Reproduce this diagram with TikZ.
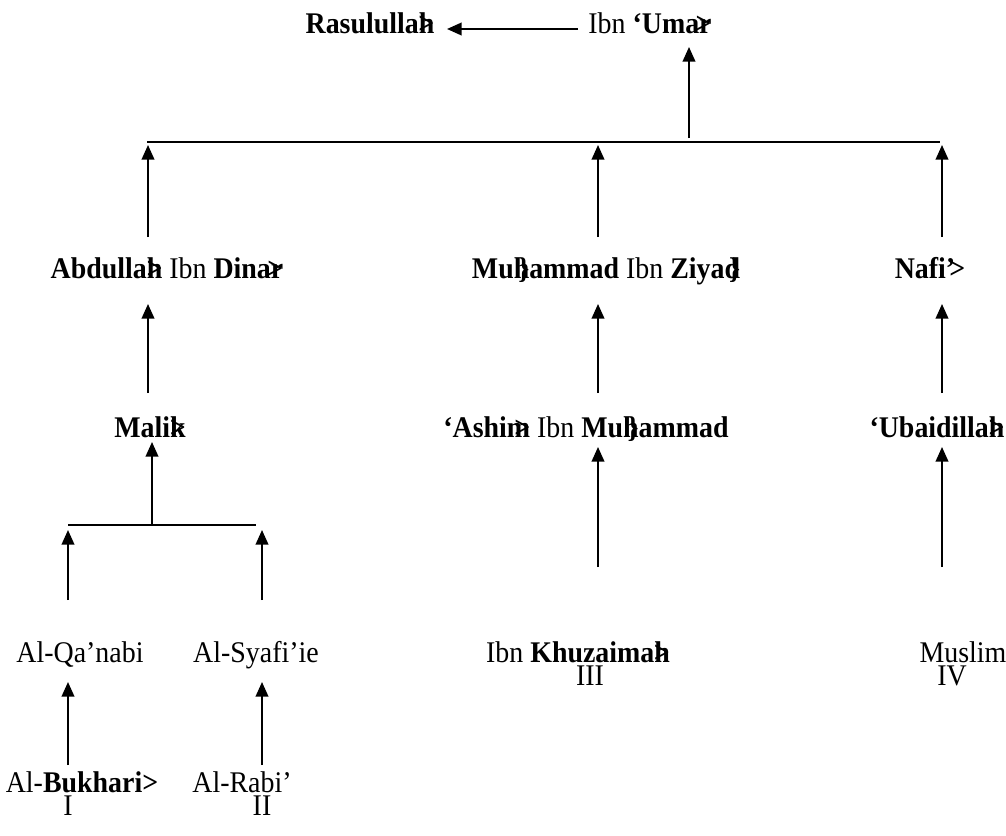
\documentclass[tikz,border=0pt]{standalone}
\usepackage{fontspec}
\setmainfont{Liberation Serif}[FakeStretch=0.93]
\usetikzlibrary{arrows.meta}
\tikzset{>={Triangle[length=11pt,width=9.5pt]}}
\newcommand{\ov}[2]{#1\llap{#2}}

\begin{document}
\begin{tikzpicture}[x=0.75pt, y=-0.75pt, line width=1.4pt,
    every node/.style={inner sep=0pt, anchor=base, font=\fontsize{22.5}{26}\selectfont}]
		\useasboundingbox (0,0) rectangle (1006,835);
		% names
		\node (rasul) at (370,33) {\textbf{Rasululla\ov{h}{>}}};
		\node (umar) at (650,33) {Ibn \textbf{‘Uma\ov{r}{>}}};
		\node (abd) at (167,278) {\textbf{Abdulla\ov{h}{>}} Ibn \textbf{Dina\ov{r}{>}}};
		\node (ziyad) at (606,278) {\textbf{Muh\ov{}{\}}ammad} Ibn \textbf{Ziya\ov{d}{\}}}};
		\node (nafi) at (930,278) {\textbf{Nafi’\kern-.2em>}};
		\node (malik) at (150,437) {\textbf{Mali\ov{k}{>}}};
		\node (ashim) at (586,437) {\textbf{‘Ashi\ov{m}{>}} Ibn \textbf{Muh\ov{}{\}}ammad}};
		\node (ubaid) at (937,437) {\textbf{‘Ubaidilla\ov{h}{>}}};
		\node (qanabi) at (80,662) {Al-Qa’nabi};
		\node (syafi) at (256,662) {Al-Syafi’ie};
		\node (khuz) at (578,662) {Ibn \textbf{Khuzaima\ov{h}{>}}};
		\node (muslim) at (963,662) {Muslim};
		\node (n3) at (590,685) {III};
		\node (n4) at (952,685) {IV};
		\node (bukh) at (82,792) {Al-\textbf{Bukhari>}};
		\node (rabi) at (242,792) {Al-Rabi’};
		\node (n1) at (68,815) {I};
		\node (n2) at (262,815) {II};

		% connectors
		\coordinate (u0) at (578,29); \coordinate (u1) at (447,29);
		\draw [->](u0)--(u1);
		\coordinate (barL) at (147,142); \coordinate (barR) at (940,142);
		\coordinate (barT) at (689,142); \coordinate (topT) at (689,47);
		\draw (barL)--(barR);
		\draw [->]([yshift=3pt]barT)--(topT);

		\coordinate (a0) at (148,237); \coordinate (a1) at (148,145);
		\coordinate (b0) at (598,237); \coordinate (b1) at (598,145);
		\coordinate (c0) at (942,237); \coordinate (c1) at (942,145);
		\draw [->](a0)--(a1); \draw [->](b0)--(b1); \draw [->](c0)--(c1);

		\coordinate (d0) at (148,393); \coordinate (d1) at (148,304);
		\coordinate (e0) at (598,393); \coordinate (e1) at (598,304);
		\coordinate (f0) at (942,393); \coordinate (f1) at (942,304);
		\draw [->](d0)--(d1); \draw [->](e0)--(e1); \draw [->](f0)--(f1);

		\coordinate (m0) at (152,525); \coordinate (m1) at (152,442);
		\coordinate (mL) at (68,525); \coordinate (mR) at (256,525);
		\draw (mL)--(mR); \draw [->](m0)--(m1);
		\coordinate (g0) at (598,567); \coordinate (g1) at (598,447);
		\coordinate (h0) at (942,567); \coordinate (h1) at (942,447);
		\draw [->](g0)--(g1); \draw [->](h0)--(h1);

		\coordinate (p0) at (68,600); \coordinate (p1) at (68,530);
		\coordinate (q0) at (262,600); \coordinate (q1) at (262,530);
		\draw [->](p0)--(p1); \draw [->](q0)--(q1);
		\coordinate (r0) at (68,765); \coordinate (r1) at (68,682);
		\coordinate (s0) at (262,765); \coordinate (s1) at (262,682);
		\draw [->](r0)--(r1); \draw [->](s0)--(s1);
		\end{tikzpicture}
\end{document}
